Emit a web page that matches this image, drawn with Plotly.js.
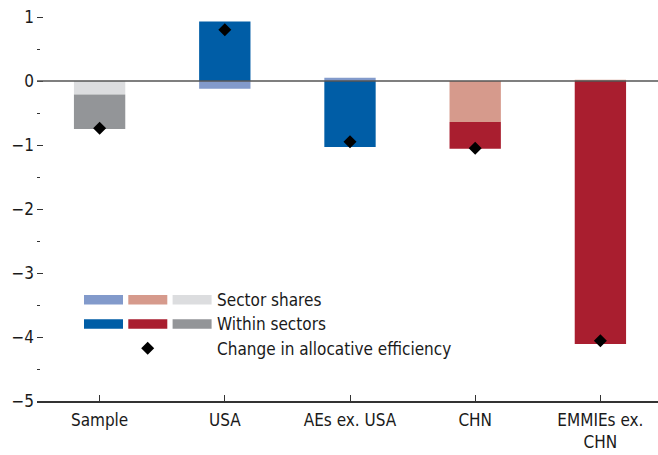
<!DOCTYPE html>
<html>
<head>
<meta charset="utf-8">
<script src="https://cdn.plot.ly/plotly-3.0.1.min.js"></script>
<style>
html,body{margin:0;padding:0;overflow:hidden;background:#fff;}
#chart{width:664px;height:455px;}
</style>
</head>
<body>
<div id="chart"></div>
<script>
// ---- data ----
const categories = ["Sample", "USA", "AEs ex. USA", "CHN", "EMMIEs ex.<br>CHN"];
const sectorShares = [-0.21, -0.12, 0.05, -0.64, 0.02];
const withinSectors = [-0.54, 0.93, -1.03, -0.42, -4.11];
const allocEfficiency = [-0.74, 0.80, -0.95, -1.05, -4.06];
const legendLabels = ["Sector shares", "Within sectors", "Change in allocative efficiency"];
const yTicks = [1, 0, -1, -2, -3, -4, -5];

// ---- styles ----
const lightColors = ["#DCDDDF", "#829ACB", "#829ACB", "#D69A8C", "#D69A8C"];
const darkColors  = ["#939598", "#005DA6", "#005DA6", "#A91E2F", "#A91E2F"];
const legendLight = ["#829ACB", "#D69A8C", "#DCDDDF"];
const legendDark  = ["#005DA6", "#A91E2F", "#939598"];
const FONT = "'DejaVu Sans Condensed', 'Liberation Sans', Arial, sans-serif";
const FS = 17;
const TXT = "#1a1a1a";
const AX = "#333333";

const W = 664, H = 455, ML = 37, MR = 1, MT = 1, MB = 54;
const PW = W - ML - MR, PH = H - MT - MB;
const px = x => (x - ML) / PW;
const py = y => (H - MB - y) / PH;

const traces = [
  {type: "bar", x: categories, y: sectorShares, name: legendLabels[0],
   marker: {color: lightColors, line: {width: 0}}, width: 0.41, hoverinfo: "skip", showlegend: false},
  {type: "bar", x: categories, y: withinSectors, name: legendLabels[1],
   marker: {color: darkColors, line: {width: 0}}, width: 0.41, hoverinfo: "skip", showlegend: false},
  {type: "scatter", mode: "markers", x: categories, y: allocEfficiency, name: legendLabels[2],
   marker: {symbol: "diamond", size: 10, color: "#000000"}, hoverinfo: "skip", showlegend: false}
];

const shapes = [
  {type: "line", xref: "paper", yref: "y", x0: 0, x1: 1, y0: 0, y1: 0,
   line: {color: "#555555", width: 1.6}, layer: "above"}
];
// legend swatches
const sw = 39, gap = 5.3, sx0 = 84;
for (let i = 0; i < 3; i++) {
  const x0 = sx0 + i * (sw + gap);
  shapes.push({type: "rect", xref: "paper", yref: "paper", x0: px(x0), x1: px(x0 + sw),
    y0: py(295), y1: py(304.5), fillcolor: legendLight[i], line: {width: 0}, layer: "above"});
  shapes.push({type: "rect", xref: "paper", yref: "paper", x0: px(x0), x1: px(x0 + sw),
    y0: py(319.3), y1: py(328.8), fillcolor: legendDark[i], line: {width: 0}, layer: "above"});
}
const dcx = 147.7, dcy = 348.3, dr = 6.5;
shapes.push({type: "path", xref: "paper", yref: "paper",
  path: `M ${px(dcx - dr)} ${py(dcy)} L ${px(dcx)} ${py(dcy - dr)} L ${px(dcx + dr)} ${py(dcy)} L ${px(dcx)} ${py(dcy + dr)} Z`,
  fillcolor: "#000000", line: {width: 0}, layer: "above"});

const annY = [299.5, 324, 348.5];
const annotations = legendLabels.map((t, i) => ({
  text: t, xref: "paper", yref: "paper", x: px(215), y: py(annY[i]),
  xanchor: "left", yanchor: "middle", showarrow: false,
  font: {family: FONT, size: FS, color: TXT}
}));

const yaxisBase = {
  range: [-5, 1.25], tickvals: yTicks, ticks: "inside", ticklen: 6, tickwidth: 1,
  tickcolor: AX, showgrid: false, zeroline: false, showline: false, fixedrange: true,
  minor: {dtick: 0.5, tick0: 0, ticks: "inside", ticklen: 3, tickwidth: 1, tickcolor: AX, showgrid: false}
};

const layout = {
  width: W, height: H,
  margin: {l: ML, r: MR, t: MT, b: MB, pad: 0},
  paper_bgcolor: "#ffffff", plot_bgcolor: "#ffffff",
  barmode: "relative",
  showlegend: false,
  font: {family: FONT, size: FS, color: TXT},
  xaxis: {
    type: "category", range: [-0.5, 4.5], showline: true, linecolor: AX, linewidth: 1.5,
    ticks: "inside", ticklen: 6, tickwidth: 1, tickcolor: AX, showgrid: false, zeroline: false,
    tickfont: {family: FONT, size: FS, color: TXT}, fixedrange: true, ticklabelstandoff: 3
  },
  yaxis: Object.assign({}, yaxisBase, {
    tickfont: {family: FONT, size: FS, color: TXT}, ticklabelstandoff: 2
  }),
  yaxis2: Object.assign({}, yaxisBase, {
    overlaying: "y", side: "right", showticklabels: false
  }),
  shapes: shapes,
  annotations: annotations
};

Plotly.newPlot("chart", traces, layout, {staticPlot: true, displayModeBar: false});
</script>
</body>
</html>
